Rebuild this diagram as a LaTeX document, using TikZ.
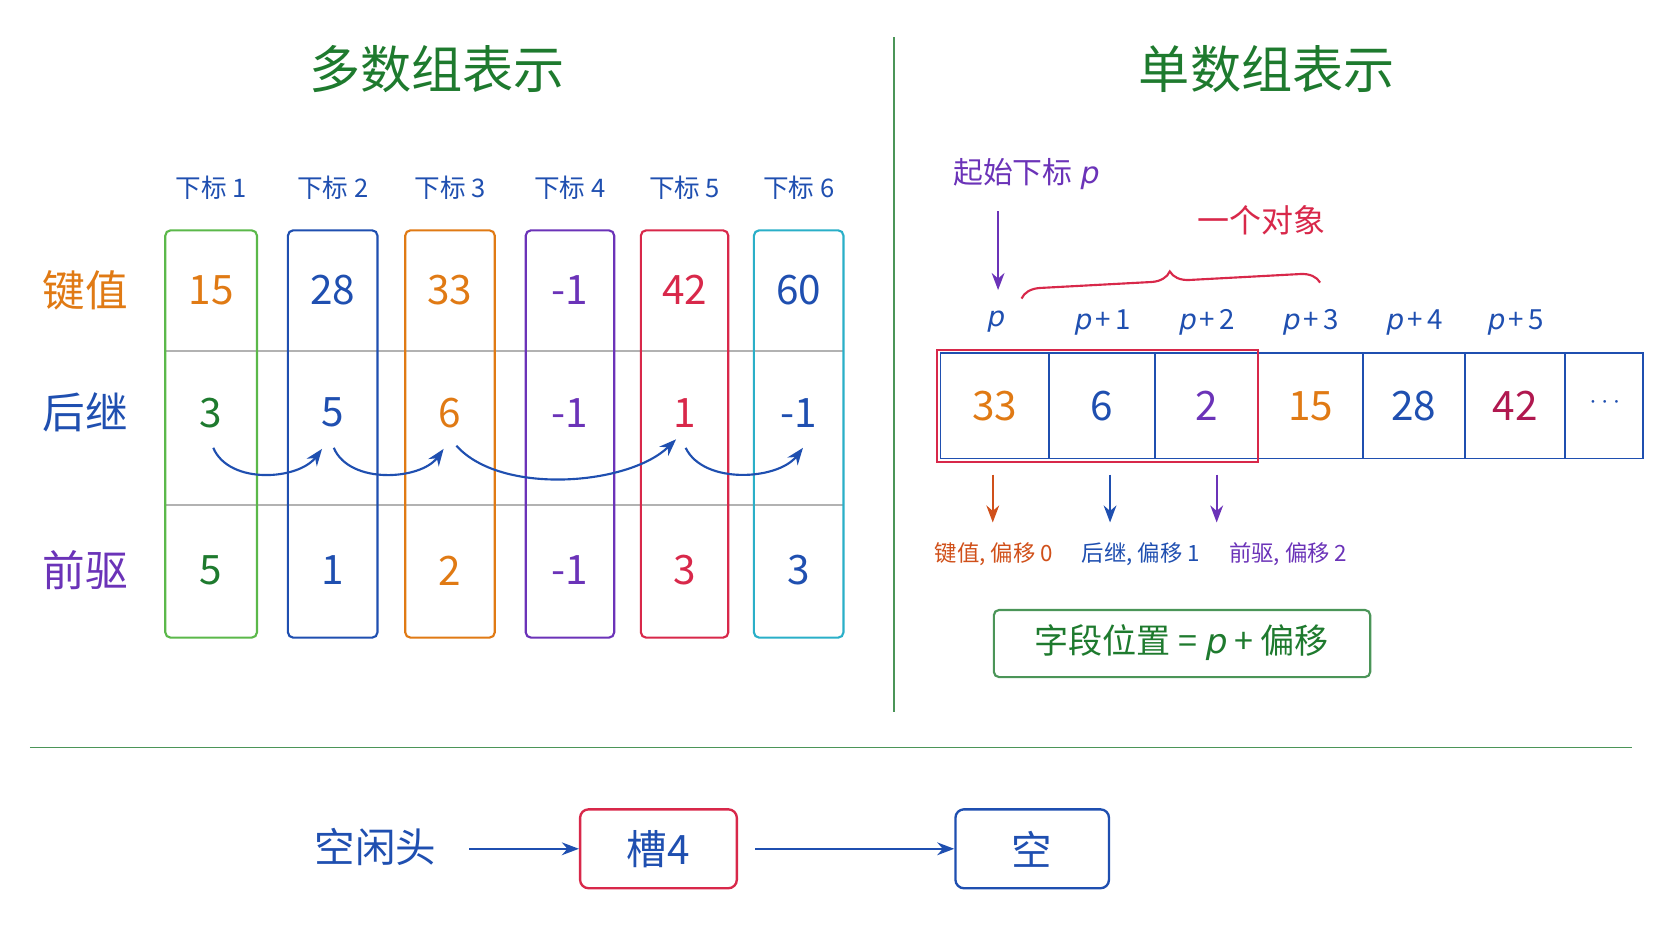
\documentclass[tikz,border=0pt]{standalone}
\usepackage{fontspec}
\setmainfont{Noto Sans CJK SC}
\newfontfamily\itp{DejaVu Sans}[FakeSlant=0.2]
\usetikzlibrary{decorations.pathreplacing,arrows.meta}
\definecolor{gr}{HTML}{1E7A2E}
\definecolor{lgr}{HTML}{5BB84A}
\definecolor{bl}{HTML}{1F4FB0}
\definecolor{og}{HTML}{E07A14}
\definecolor{pu}{HTML}{6B33B8}
\definecolor{rd}{HTML}{D8284A}
\definecolor{cy}{HTML}{2AAFC8}
\definecolor{mg}{HTML}{B0184F}
\definecolor{ogr}{HTML}{D0501A}
\newcommand{\pp}{{\itp p}}
\begin{document}
\begin{tikzpicture}[x=1pt,y=-1pt,
 col/.style={draw=#1,line width=2pt,rounded corners=5pt},
 cell/.style={draw=bl,line width=1.8pt},
 arr/.style={-{Stealth[length=16pt,width=12pt]},line width=2pt},
 lab/.style={font=\fontsize{24}{24}\selectfont},
 num/.style={font=\fontsize{38}{38}\selectfont},
 row/.style={font=\fontsize{40}{40}\selectfont},
 ]
\useasboundingbox (0,0) rectangle (1568,882);
\node[text=gr,font=\fontsize{48}{48}\selectfont] (t1) at (410,65) {多数组表示};
\node[text=gr,font=\fontsize{48}{48}\selectfont] (t2) at (1188,65) {单数组表示};
\draw[gr!80,line width=1.8pt] (838,35) -- (838,668);
\draw[gr!80,line width=1.8pt] (28,701) -- (1530,701);
% left grid
\draw[gray!60,line width=1.8pt] (155,329) -- (791,329) (155,474) -- (791,474);
\foreach \a/\b/\c/\i in {155/241/lgr/1,270/354/bl/2,380/464/og/3,493/576/pu/4,601/683/rd/5,707/791/cy/6}{
 \draw[col=\c] (\a,216) rectangle (\b,598);
 \node[lab,text=bl] (h\i) at ({(\a+\b)/2},176) {下标 \i};
}
\node[row,text=og] (r1) at (80,272) {键值};
\node[row,text=bl] (r2) at (80,387) {后继};
\node[row,text=pu] (r3) at (80,535) {前驱};
\foreach \x/\i/\va/\ca/\vb/\cb/\vc/\cc in {198/1/15/og/3/gr/5/gr,312/2/28/bl/5/bl/1/bl,422/3/33/og/6/og/2/og,534/4/-1/pu/-1/pu/-1/pu,642/5/42/rd/1/rd/3/rd,749/6/60/bl/-1/bl/3/bl}{
 \node[num,text=\ca] (a\i) at (\x,272) {\va};
 \node[num,text=\cb] (b\i) at (\x,387) {\vb};
 \node[num,text=\cc] (c\i) at (\x,535) {\vc};
}
\coordinate (s1) at (200,420); \coordinate (e1) at (302,421);
\coordinate (s2) at (313,420); \coordinate (e2) at (416,421);
\coordinate (s3) at (428,418); \coordinate (e3) at (634,412);
\coordinate (s4) at (643,420); \coordinate (e4) at (753,420);
\draw[arr,bl] (s1) .. controls (215,455) and (280,450) .. (e1);
\draw[arr,bl] (s2) .. controls (328,455) and (395,450) .. (e2);
\draw[arr,bl] (s3) .. controls (470,465) and (590,455) .. (e3);
\draw[arr,bl] (s4) .. controls (660,455) and (730,450) .. (e4);
% right
\node[text=pu,font=\fontsize{28}{28}\selectfont] (sp) at (962,163) {起始下标 \pp};
\coordinate (pa) at (936,198); \coordinate (pb) at (936,272);
\draw[arr,pu] (pa) -- (pb);
\draw[rd,line width=2pt,decorate,decoration={brace,amplitude=18pt}] (958,280) -- (1238,265);
\node[text=rd,font=\fontsize{30}{30}\selectfont] (obj) at (1183,207) {一个对象};
\foreach \a/\b/\v/\c/\l/\i in {882/984/33/og/\pp/1,984/1083/6/bl/\pp\,+\,1/2,1083/1180/2/pu/\pp\,+\,2/3,1180/1278/15/og/\pp\,+\,3/4,1278/1374/28/bl/\pp\,+\,4/5,1374/1468/42/mg/\pp\,+\,5/6}{
 \draw[cell] (\a,331) rectangle (\b,430);
 \node[num,text=\c] (v\i) at ({(\a+\b)/2},381) {\v};
 \node[text=bl,font=\fontsize{26}{26}\selectfont] (p\i) at ({(\a+\b)/2},302) {\l};
}
\draw[cell] (1468,331) rectangle (1541,430);
\node[text=bl,font=\fontsize{30}{30}\selectfont] (v7) at (1505,378) {$\cdots$};
\draw[rd,line width=2.2pt] (879,328) rectangle (1180,433);
\coordinate (o1) at (931,445); \coordinate (o2) at (931,490);
\coordinate (o3) at (1041,445); \coordinate (o4) at (1041,490);
\coordinate (o5) at (1141,445); \coordinate (o6) at (1141,490);
\draw[arr,ogr] (o1) -- (o2); \draw[arr,bl] (o3) -- (o4); \draw[arr,pu] (o5) -- (o6);
\node[text=ogr,font=\fontsize{21}{21}\selectfont] (f1) at (932,520) {键值, 偏移 0};
\node[text=bl,font=\fontsize{21}{21}\selectfont] (f2) at (1070,520) {后继, 偏移 1};
\node[text=pu,font=\fontsize{21}{21}\selectfont] (f3) at (1208,520) {前驱, 偏移 2};
\draw[col=gr!80] (932,572) rectangle (1285,635);
\node[text=gr,font=\fontsize{32}{32}\selectfont] (fm) at (1108,603) {字段位置 = \pp\ + 偏移};
% bottom
\node[text=bl,font=\fontsize{38}{38}\selectfont] (fh) at (352,794) {空闲头};
\node[draw=rd,line width=2.2pt,rounded corners=8pt,minimum width=147pt,minimum height=74pt,text=bl,font=\fontsize{38}{38}\selectfont] (s4n) at (617.5,796) {槽4};
\node[draw=bl,line width=2.2pt,rounded corners=8pt,minimum width=144pt,minimum height=74pt,text=bl,font=\fontsize{38}{38}\selectfont] (em) at (968,796) {空};
\coordinate (fa) at (440,796);
\draw[arr,bl] (fa) -- (s4n.west);
\draw[arr,bl] ([xshift=16pt]s4n.east) -- (em.west);
\end{tikzpicture}
\end{document}
